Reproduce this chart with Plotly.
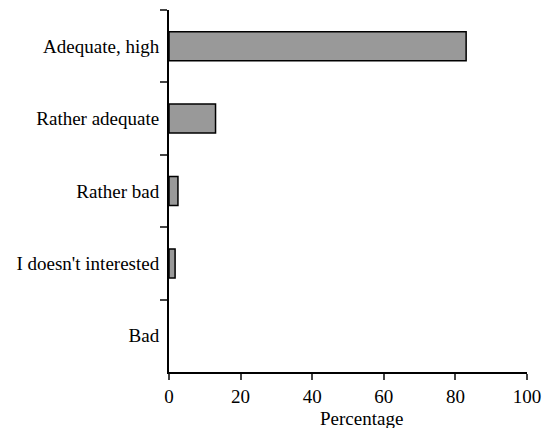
import plotly.graph_objects as go

categories = ["Adequate, high", "Rather adequate", "Rather bad", "I doesn't interested", "Bad"]
values = [83.0, 13.0, 2.5, 1.7, 0.0]
x_ticks = [0, 20, 40, 60, 80, 100]
x_title = "Percentage"

fig = go.Figure(go.Bar(
    x=values, y=categories, orientation="h",
    width=0.4,
    marker=dict(color="#999999",
                line=dict(color="black", width=[1.5 if v > 0 else 0 for v in values])),
))

font = dict(family="Liberation Serif, Times New Roman, serif", size=19, color="black")
fig.update_layout(
    width=548, height=428,
    margin=dict(l=169, r=21, t=10, b=56, autoexpand=False),
    paper_bgcolor="white", plot_bgcolor="white",
    font=font, showlegend=False,
    xaxis=dict(range=[0, 100], tickvals=x_ticks, ticks="outside", ticklen=6, tickwidth=2,
               showline=True, linecolor="black", linewidth=2, showgrid=False, zeroline=False,
               automargin=False, tickfont=font),
    yaxis=dict(categoryorder="array", categoryarray=categories, autorange="reversed",
               ticks="outside", tickson="boundaries", ticklen=7, tickwidth=2,
               showline=True, linecolor="black", linewidth=2, showgrid=False, zeroline=False,
               automargin=False, tickfont=font, ticklabelstandoff=4),
    annotations=[dict(text=x_title, xref="paper", yref="paper", x=0.539, y=-0.095,
                      xanchor="center", yanchor="top", showarrow=False, font=font)],
)
fig.write_html("out.html", config={"displayModeBar": False},
               post_script="document.body.style.margin='0px';document.body.style.overflow='hidden';")
